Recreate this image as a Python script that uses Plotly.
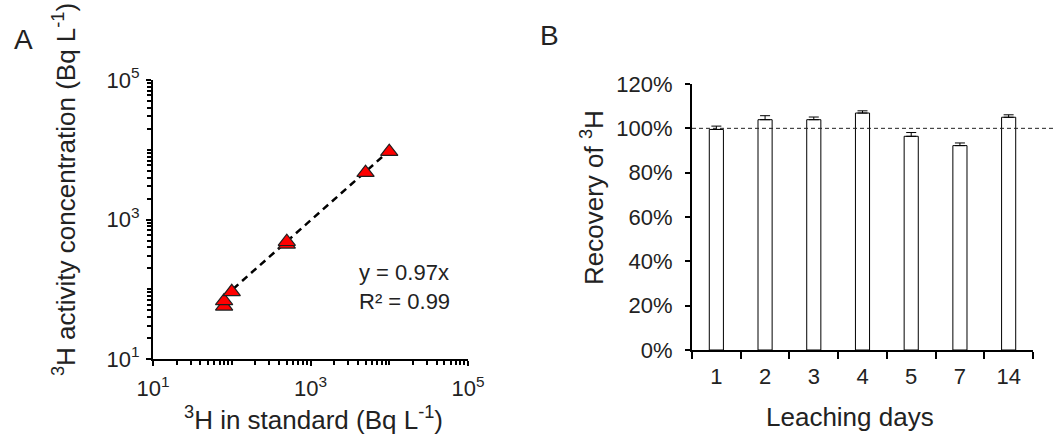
import plotly.graph_objects as go

# Panel A: tritium measured vs. standard (log-log)
std_conc = [80, 80, 100, 500, 500, 5000, 10000]
measured_conc = [57, 68, 92, 440, 480, 4700, 9400]
slope = 0.97
fit_x = [80, 10000]
fit_y = [slope * v for v in fit_x]
log_tick_vals = [10, 1000, 100000]
log_tick_text = ["10<sup>1</sup>", "10<sup>3</sup>", "10<sup>5</sup>"]

# Panel B: recovery by leaching day
days = ["1", "2", "3", "4", "5", "7", "14"]
recovery = [0.995, 1.039, 1.039, 1.069, 0.964, 0.922, 1.050]
recovery_err = [0.015, 0.018, 0.012, 0.010, 0.017, 0.012, 0.011]

FONT = "Arial, Liberation Sans, sans-serif"
W, H = 1054, 437

# minor tick positions for each decade 10^1..10^5
minor_vals = [d * 10 ** e for e in range(1, 5) for d in range(1, 10)] + [100000]

fig = go.Figure()

fig.add_trace(go.Scatter(
    x=fit_x, y=fit_y, mode="lines",
    line=dict(color="black", width=2.5, dash="7px,5px"),
    xaxis="x", yaxis="y", showlegend=False, hoverinfo="skip",
))
fig.add_trace(go.Scatter(
    x=std_conc, y=measured_conc, mode="markers",
    marker=dict(symbol="triangle-up", size=15, color="#ff0000",
                line=dict(color="#202020", width=1.2)),
    xaxis="x", yaxis="y", showlegend=False,
))

fig.add_trace(go.Bar(
    x=days, y=recovery,
    marker=dict(color="white", line=dict(color="black", width=1)),
    error_y=dict(type="data", array=recovery_err, symmetric=False,
                 arrayminus=[0] * len(days), color="black",
                 thickness=1, width=5),
    xaxis="x2", yaxis="y2", showlegend=False,
))

log_axis_common = dict(
    type="log", range=[1, 5], showgrid=False, zeroline=False,
    showline=True, linecolor="black", linewidth=2,
    tickmode="array", tickvals=log_tick_vals, ticktext=log_tick_text,
    ticks="outside", ticklen=5, tickwidth=2, tickcolor="black",
    minor=dict(tickmode="array", tickvals=minor_vals, ticks="outside",
               ticklen=4, tickwidth=1.5, tickcolor="black", showgrid=False),
    tickfont=dict(family=FONT, size=22, color="#222"),
)

fig.update_layout(
    width=W, height=H,
    margin=dict(l=0, r=0, t=0, b=0, pad=0, autoexpand=False),
    paper_bgcolor="white", plot_bgcolor="white",
    font=dict(family=FONT, color="#222"),
    bargap=0.71,
    xaxis=dict(domain=[153 / W, 468 / W], anchor="y", ticklabelstandoff=4,
               **log_axis_common),
    yaxis=dict(domain=[1 - 359 / H, 1 - 80 / H], anchor="x", ticklabelstandoff=2,
               **log_axis_common),
    xaxis2=dict(domain=[692 / W, 1033 / W], anchor="y2", type="category",
                showgrid=False, zeroline=False, showline=True,
                linecolor="black", linewidth=2,
                ticks="outside", tickson="boundaries", ticklen=7,
                tickwidth=2, tickcolor="black", ticklabelstandoff=6,
                tickfont=dict(family=FONT, size=22, color="#222")),
    yaxis2=dict(domain=[1 - 350 / H, 1 - 84 / H], anchor="x2",
                range=[0, 1.2], dtick=0.2, tickformat=".0%",
                showgrid=False, zeroline=False, showline=True,
                linecolor="black", linewidth=2,
                ticks="outside", ticklen=5, tickwidth=2, tickcolor="black",
                ticklabelstandoff=8,
                tickfont=dict(family=FONT, size=22, color="#222")),
    # 100 % reference line across panel B
    shapes=[dict(type="line", xref="paper", yref="y2",
                 x0=692 / W, x1=1.0, y0=1.0, y1=1.0,
                 line=dict(color="#222", width=1, dash="4px,3px"))],
)

annots = [
    dict(text="A", x=23 / W, y=1 - 39 / H, size=28),
    dict(text="B", x=549 / W, y=1 - 36 / H, size=28),
    dict(text="<sup>3</sup>H activity concentration (Bq L<sup>-1</sup>)",
         x=65 / W, y=1 - 190 / H, size=26, angle=-90),
    dict(text="<sup>3</sup>H in standard (Bq L<sup>-1</sup>)",
         x=313 / W, y=1 - 418 / H, size=26),
    dict(text="Recovery of <sup>3</sup>H",
         x=592 / W, y=1 - 198 / H, size=26, angle=-90),
    dict(text="Leaching days", x=850 / W, y=1 - 417 / H, size=26),
]
for a in annots:
    fig.add_annotation(
        text=a["text"], x=a["x"], y=a["y"], xref="paper", yref="paper",
        showarrow=False, textangle=a.get("angle", 0),
        xanchor="center", yanchor="middle",
        font=dict(family=FONT, size=a["size"], color="#222"),
    )

fig.add_annotation(
    text=f"y = {slope}x<br>R² = 0.99", x=357 / W, y=1 - 287 / H,
    xref="paper", yref="paper", showarrow=False, align="left",
    xanchor="left", yanchor="middle",
    font=dict(family=FONT, size=22, color="#222"),
)

fig.write_html("out.html")
